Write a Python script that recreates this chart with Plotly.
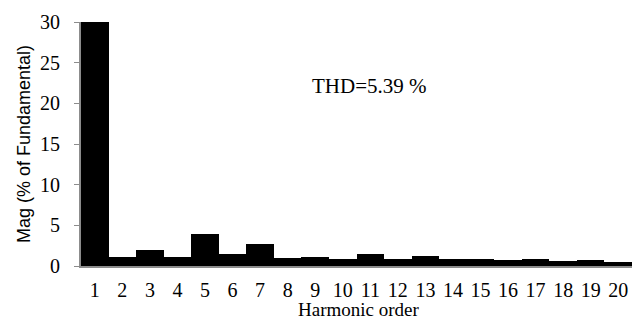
import plotly.graph_objects as go

harmonics = [str(i) for i in range(1, 21)]
magnitude = [100, 1.1, 2.0, 1.1, 3.9, 1.5, 2.7, 1.0, 1.1, 0.85,
             1.5, 0.8, 1.2, 0.8, 0.85, 0.72, 0.85, 0.56, 0.68, 0.48]
y_ticks = [0, 5, 10, 15, 20, 25, 30]
thd_label = "THD=5.39 %"
y_title = "Mag (% of Fundamental)"
x_title = "Harmonic order"

serif = "Liberation Serif, Times New Roman, serif"
sans = "Liberation Sans, Arial, sans-serif"

L, R, T, B = 81, 11, 16, 59
W, H = 643, 325
pw, ph = W - L - R, H - T - B


def px_x(p):
    return (p - L) / pw


def px_y(p):
    return (H - B - p) / ph


fig = go.Figure(go.Bar(x=harmonics, y=magnitude, marker=dict(color="black", line=dict(width=0))))

fig.update_layout(
    width=W, height=H,
    margin=dict(l=L, r=R, t=T, b=B),
    paper_bgcolor="white", plot_bgcolor="white",
    bargap=0, showlegend=False,
    annotations=[
        dict(text=thd_label, x=px_x(310), y=px_y(82), xref="paper", yref="paper",
             xanchor="left", yanchor="middle", showarrow=False,
             font=dict(family=serif, size=21, color="black")),
        dict(text=y_title, x=px_x(24), y=px_y(141), xref="paper", yref="paper",
             xanchor="center", yanchor="middle", textangle=-90, showarrow=False,
             font=dict(family=sans, size=18, color="black")),
        dict(text=x_title, x=px_x(358), y=px_y(311), xref="paper", yref="paper",
             xanchor="center", yanchor="middle", showarrow=False,
             font=dict(family=serif, size=19, color="black")),
    ],
)

fig.update_xaxes(
    type="category", showline=True, linecolor="#8c8c8c", linewidth=2,
    ticks="", showgrid=False, ticklabelstandoff=5,
    tickfont=dict(family=serif, size=20, color="black"),
)
fig.update_yaxes(
    range=[0, 30], tickvals=y_ticks, showline=True, linecolor="#8c8c8c", linewidth=2,
    ticks="outside", ticklen=5, tickcolor="#8c8c8c", tickwidth=1, showgrid=False,
    zeroline=False, ticklabelstandoff=10,
    tickfont=dict(family=serif, size=20, color="black"),
)

fig.write_html("out.html")
